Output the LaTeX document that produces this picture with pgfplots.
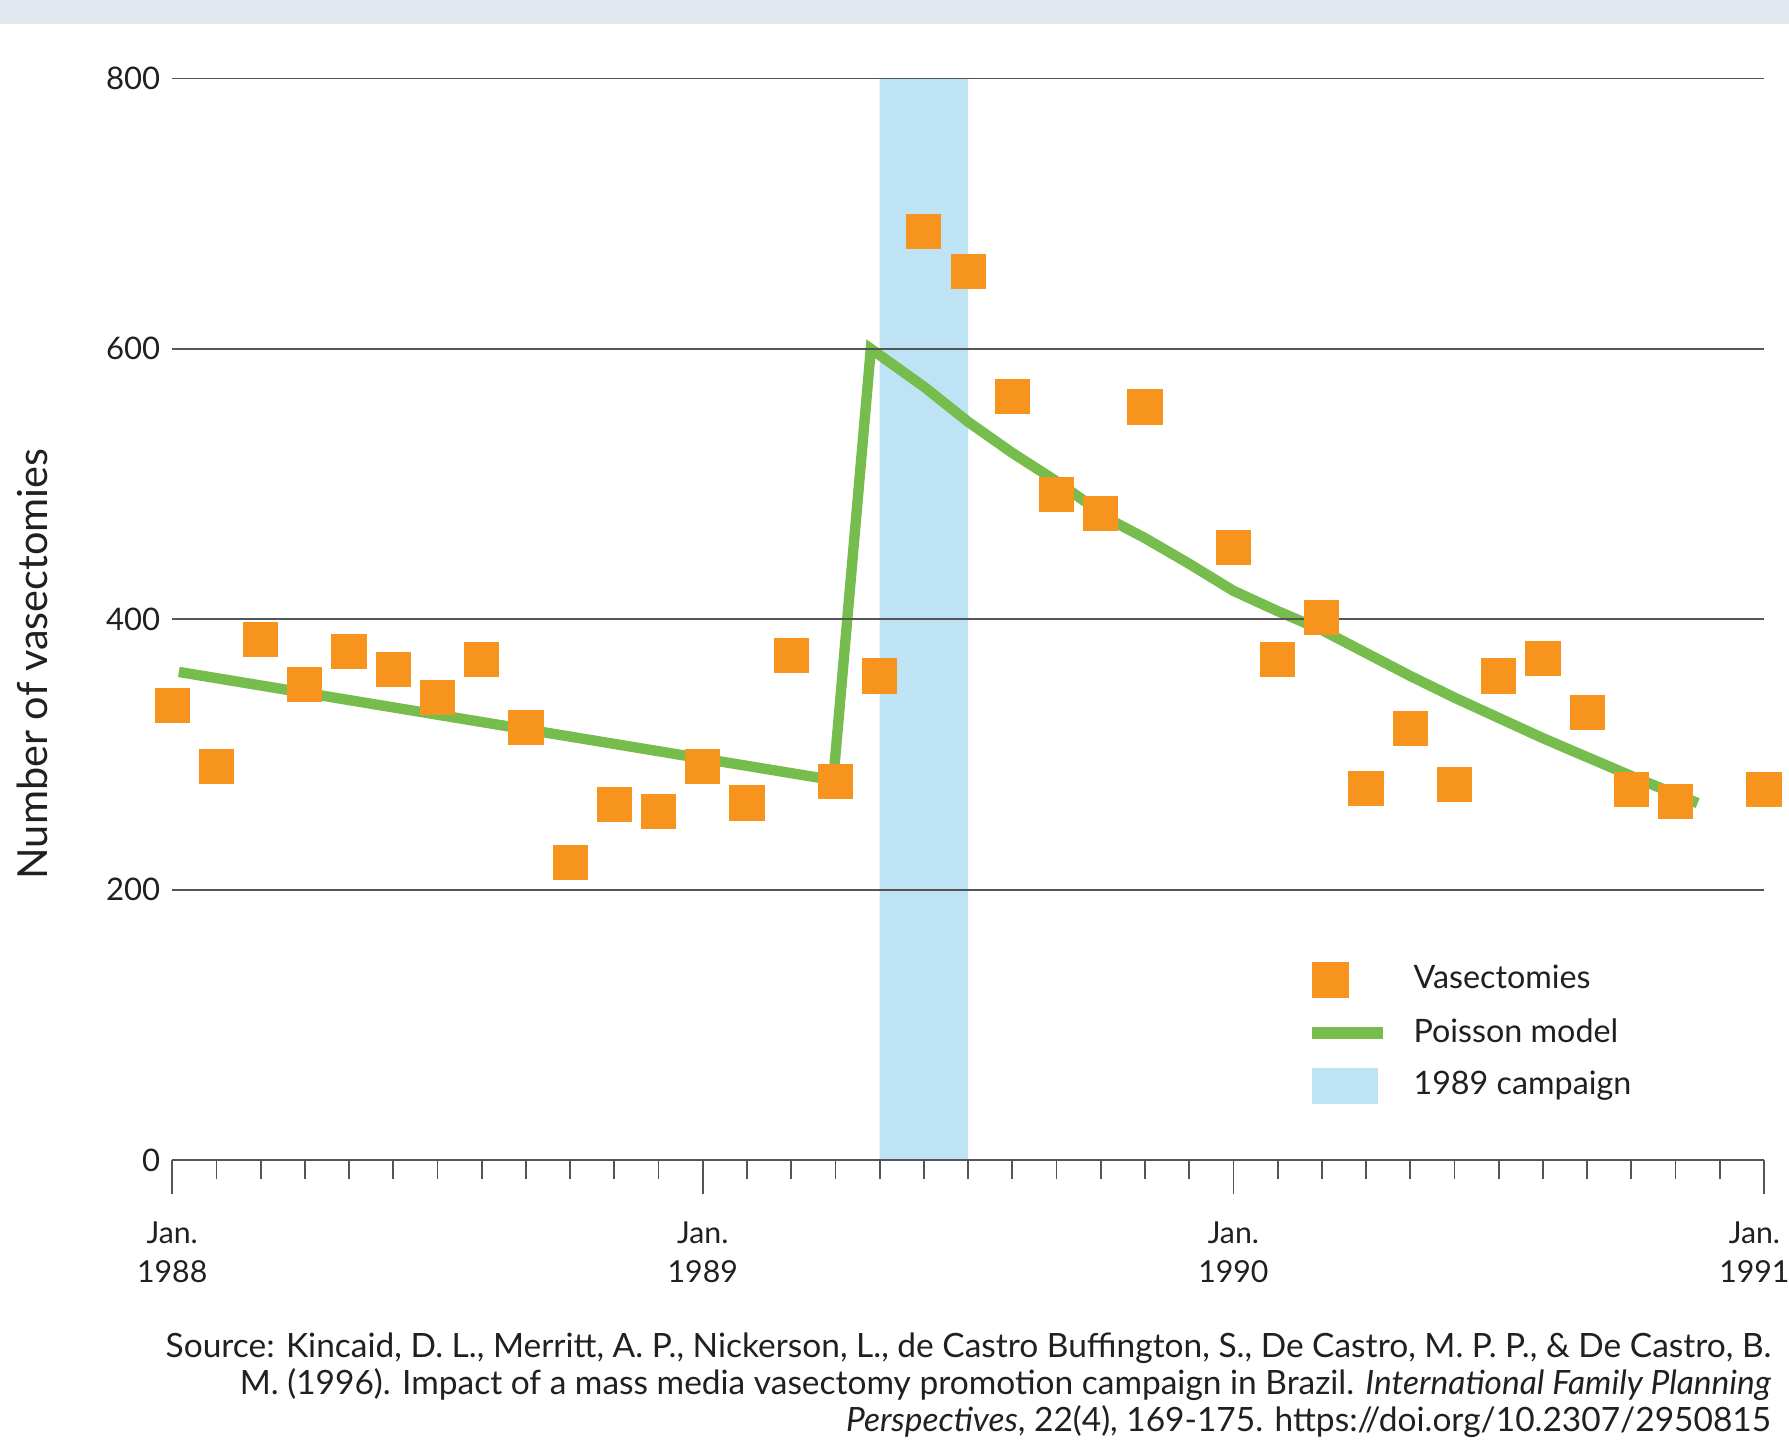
\documentclass[border=0pt]{standalone}
\usepackage{fontspec}
\setmainfont{Lato}
\usepackage{pgfplots}
\pgfplotsset{compat=1.18}
\definecolor{vorange}{HTML}{F7941D}
\definecolor{vgreen}{HTML}{77BD4D}
\definecolor{vblue}{HTML}{BEE3F5}
\definecolor{topbar}{HTML}{E1E8EF}
\definecolor{gridc}{HTML}{555555}
\definecolor{txt}{HTML}{231F20}

\begin{document}
\begin{tikzpicture}
\useasboundingbox (0,0) rectangle (447.25bp,-363.5bp);
\fill[topbar] (0,0) rectangle (447.25bp,-5.9bp);
\begin{axis}[
  at={(43.05bp,-290bp)}, anchor=south west,
  scale only axis, width=397.95bp, height=270.4bp,
  xmin=0, xmax=36, ymin=0, ymax=800,
  axis x line*=bottom, axis y line*=left,
  y axis line style={draw=none},
  x axis line style={gridc, line width=0.5bp},
  axis on top,
  xtick={0,12,24}, minor xtick={1,...,35},
  xticklabels={{Jan.\\1988},{Jan.\\1989},{Jan.\\1990}},
  extra x ticks={36},
  extra x tick labels={{Jan.\\1991}},
  extra x tick style={xticklabel style={xshift=-2.4bp}},
  xticklabel style={align=center, text=txt, font=\fontsize{7.6}{9.75}\selectfont, yshift=-3.3bp},
  xtick align=outside,
  major tick length=8.6bp, minor tick length=4.8bp,
  x tick style={gridc, line width=0.45bp},
  ytick={0,200,400,600,800},
  yticklabels={0,200,400,600,800},
  y tick style={draw=none},
  ytick align=inside,
  yticklabel style={text=txt, font=\fontsize{7.8}{9}\selectfont, inner sep=0pt, xshift=-2.8bp},
  ymajorgrids, grid style={gridc, line width=0.45bp},
  clip=false,
  legend cell align=left,
  legend style={at={(0.716,0.1835)}, anchor=north west, draw=none, fill=none,
    inner sep=0pt, outer sep=0pt, row sep=4.3bp, column sep=7.6bp,
    font=\fontsize{8.1}{9.7}\selectfont, text=txt,
    nodes={inner sep=0pt}},
]
\addplot[fill=vblue, draw=none, forget plot] coordinates {(16,0) (16,800) (18,800) (18,0)} \closedcycle;
\addplot[vgreen, line width=2.6bp, forget plot] coordinates {
(0.15,361) (14.95,281) (15.8,600) (17,572) (18,546) (19,523) (20,502) (21.3,472)
(22,460) (23,441) (24,421) (25,406) (26,392) (27,375) (28,358) (29,342)
(30,327) (31,312) (32,298) (33,284) (34.5,264)};
\addplot[vorange, only marks, mark=square*, mark size=4.2bp, mark options={fill=vorange, draw=vorange, line width=0.4bp}, forget plot] coordinates {
(0,336) (1,291) (2,385) (3,352) (4,376) (5,363) (6,342) (7,370) (8,320) (9,220)
(10,263) (11,258) (12,291) (13,264) (14,373) (15,280) (16,358) (17,687) (18,657)
(19,565) (20,492) (21,478) (22,557) (24,453) (25,370) (26,401) (27,275) (28,319)
(29,278) (30,358) (31,371) (32,331) (33,274) (34,265) (36,274)};
\addlegendimage{legend image code/.code={\path[draw=none,fill=none] (0bp,-4.4bp) rectangle (17.4bp,4.4bp); \fill[vorange] (0bp,-4.4bp) rectangle (8.8bp,4.4bp);}}
\addlegendentry{Vasectomies}
\addlegendimage{legend image code/.code={\path[draw=none,fill=none] (0bp,-4.4bp) rectangle (17.4bp,4.4bp); \fill[vgreen] (0bp,-1.35bp) rectangle (17.4bp,1.35bp);}}
\addlegendentry{Poisson model}
\addlegendimage{legend image code/.code={\path[draw=none,fill=none] (0bp,-4.4bp) rectangle (17.4bp,4.4bp); \fill[vblue] (0bp,-4.3bp) rectangle (16.2bp,4.3bp);}}
\addlegendentry{1989 campaign}
\end{axis}
\node[rotate=90, anchor=base, text=txt, font=\fontsize{10.4}{12}\selectfont, inner sep=0pt] at (11.75bp,-166bp) {Number of vasectomies};
\begin{scope}[every node/.style={anchor=base east, inner sep=0pt, text=txt, font=\fontsize{8.4}{9}\selectfont}]
\node at (443bp,-339.3bp) {Source: Kincaid, D. L., Merritt, A. P., Nickerson, L., de Castro Buffington, S., De Castro, M. P. P., \& De Castro, B.};
\node at (443bp,-348.5bp) {M. (1996). Impact of a mass media vasectomy promotion campaign in Brazil. \textit{International Family Planning}};
\node at (443bp,-357.75bp) {\textit{Perspectives}, 22(4), 169-175. https://doi.org/10.2307/2950815};
\end{scope}
\end{tikzpicture}
\end{document}
